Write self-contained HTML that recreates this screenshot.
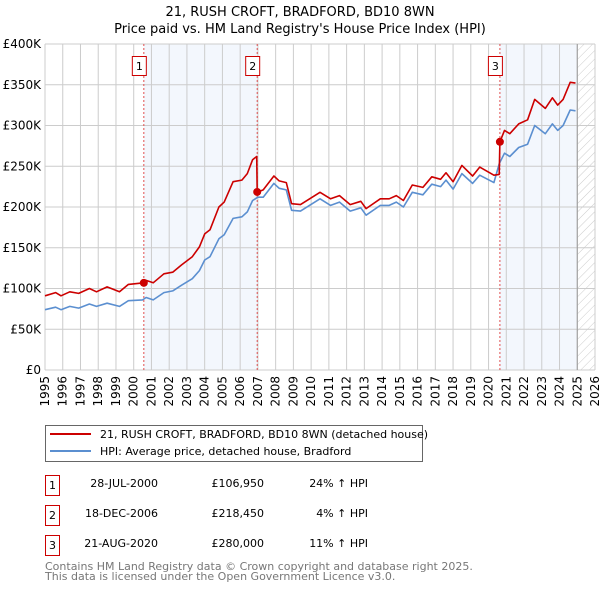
<!DOCTYPE html>
<html><head><meta charset="utf-8"><style>
body{margin:0;width:600px;height:590px;background:#fff;font-family:"Liberation Sans","DejaVu Sans",sans-serif;overflow:hidden}
svg text{font-family:"DejaVu Sans","Liberation Sans",sans-serif}
</style></head><body>
<svg id="chart" width="600" height="590" xmlns="http://www.w3.org/2000/svg">
<defs><pattern id="hatch" width="6" height="6" patternUnits="userSpaceOnUse" patternTransform="rotate(45)"><line x1="0" y1="0" x2="0" y2="6" stroke="#ccc" stroke-width="1"/></pattern></defs>
<text x="300" y="16" text-anchor="middle" font-size="13">21, RUSH CROFT, BRADFORD, BD10 8WN</text>
<text x="300" y="33" text-anchor="middle" font-size="13">Price paid vs. HM Land Registry's House Price Index (HPI)</text>
<g id="plot"></g>
<g>
<rect x="45.5" y="425.5" width="377" height="36" fill="#fff" stroke="#666"/>
<line x1="50" y1="434" x2="91" y2="434" stroke="#cc0000" stroke-width="2"/>
<text x="100" y="438" font-size="11">21, RUSH CROFT, BRADFORD, BD10 8WN (detached house)</text>
<line x1="50" y1="451" x2="91" y2="451" stroke="#5b8fd0" stroke-width="2"/>
<text x="100" y="455" font-size="11">HPI: Average price, detached house, Bradford</text>
</g>
<g font-size="11">
<rect x="45.5" y="475.5" width="14" height="20" fill="none" stroke="#cc0000"/><text x="52.5" y="489" text-anchor="middle">1</text>
<text x="158" y="487" text-anchor="end">28-JUL-2000</text><text x="264" y="487" text-anchor="end">£106,950</text><text x="368" y="487" text-anchor="end">24% ↑ HPI</text>
<rect x="45.5" y="505.5" width="14" height="20" fill="none" stroke="#cc0000"/><text x="52.5" y="519" text-anchor="middle">2</text>
<text x="158" y="517" text-anchor="end">18-DEC-2006</text><text x="264" y="517" text-anchor="end">£218,450</text><text x="368" y="517" text-anchor="end">4% ↑ HPI</text>
<rect x="45.5" y="535.5" width="14" height="20" fill="none" stroke="#cc0000"/><text x="52.5" y="549" text-anchor="middle">3</text>
<text x="158" y="547" text-anchor="end">21-AUG-2020</text><text x="264" y="547" text-anchor="end">£280,000</text><text x="368" y="547" text-anchor="end">11% ↑ HPI</text>
</g>
<text x="45" y="570" font-size="11" fill="#777">Contains HM Land Registry data © Crown copyright and database right 2025.</text>
<text x="45" y="580" font-size="11" fill="#777">This data is licensed under the Open Government Licence v3.0.</text>
</svg>
<script>
const hpiYears=[1995.0,1995.6,1995.9,1996.4,1996.9,1997.5,1997.9,1998.5,1999.2,1999.7,2000.5,2000.7,2001.1,2001.7,2002.2,2002.7,2003.3,2003.7,2004.0,2004.3,2004.8,2005.1,2005.6,2006.1,2006.4,2006.7,2007.0,2007.3,2007.9,2008.2,2008.6,2008.9,2009.4,2010.5,2011.1,2011.6,2012.2,2012.8,2013.1,2013.9,2014.4,2014.8,2015.2,2015.7,2016.3,2016.8,2017.3,2017.6,2018.0,2018.5,2019.1,2019.5,2020.3,2020.6,2020.9,2021.2,2021.7,2022.2,2022.6,2023.2,2023.6,2023.9,2024.2,2024.6,2024.9];
const hpiValues=[74,77,74,78,76,81,78,82,78,85,86,89,86,95,97,104,112,122,135,139,161,166,186,188,194,208,212,212,229,223,221,196,195,210,202,206,195,199,190,202,202,206,200,218,215,228,225,233,222,241,229,239,230,253,266,262,273,277,300,290,302,294,300,319,318];
const priceYears=[1995.0,1995.6,1995.9,1996.4,1996.9,1997.5,1997.9,1998.5,1999.2,1999.7,2000.57,2000.7,2001.1,2001.7,2002.2,2002.7,2003.3,2003.7,2004.0,2004.3,2004.8,2005.1,2005.6,2006.1,2006.4,2006.7,2006.93,2006.96,2007.3,2007.9,2008.2,2008.6,2008.9,2009.4,2010.5,2011.1,2011.6,2012.2,2012.8,2013.1,2013.9,2014.4,2014.8,2015.2,2015.7,2016.3,2016.8,2017.3,2017.6,2018.0,2018.5,2019.1,2019.5,2020.3,2020.6,2020.64,2020.9,2021.2,2021.7,2022.2,2022.6,2023.2,2023.6,2023.9,2024.2,2024.6,2024.9];
const priceValues=[91,95,91,96,94,100,96,102,96,105,107,110,107,118,120,129,139,151,167,172,200,206,231,233,241,258,262,218,221,238,232,230,204,203,218,210,214,203,207,198,210,210,214,208,227,224,237,234,242,231,251,238,249,239,240,280,294,290,302,307,332,321,334,325,332,353,352];
const saleYears=[2000.57,2006.96,2020.64];
const salePrices=[106.95,218.45,280];
const yTicks=[0,50,100,150,200,250,300,350,400];
const yTickLabels=["£0","£50K","£100K","£150K","£200K","£250K","£300K","£350K","£400K"];
const xTicks=[1995,1996,1997,1998,1999,2000,2001,2002,2003,2004,2005,2006,2007,2008,2009,2010,2011,2012,2013,2014,2015,2016,2017,2018,2019,2020,2021,2022,2023,2024,2025,2026];
const NS="http://www.w3.org/2000/svg";
const L=45,R=595,T=44,B=370;
const xs=y=>L+(y-1995)/(2026-1995)*(R-L);
const ys=v=>B-v/400*(B-T);
const g=document.getElementById('plot');
function mk(tag,at,parent){const e=document.createElementNS(NS,tag);for(const k in at)e.setAttribute(k,at[k]);(parent||g).appendChild(e);return e;}
// shading
let s1=mk('rect',{x:xs(saleYears[0]),y:T,width:xs(saleYears[1])-xs(saleYears[0]),height:B-T,fill:'#eef3fc',opacity:0.7});


let s2=mk('rect',{x:xs(saleYears[2]),y:T,width:xs(2025)-xs(saleYears[2]),height:B-T,fill:'#eef3fc',opacity:0.7});


let hz=mk('rect',{x:xs(2025),y:T,width:R-xs(2025),height:B-T,fill:'url(#hatch)'});


// grid
xTicks.forEach(t=>{const x=xs(t);
 const l=mk('line',{x1:x,y1:T,x2:x,y2:B,stroke:'#ccc','stroke-width':1});
 
 
 const tx=mk('text',{x:x+4,y:B+6,'font-size':12,'text-anchor':'end',transform:`rotate(-90 ${x+4} ${B+6})`});
 tx.textContent=t;
 
 
});
yTicks.forEach((t,i)=>{const y=ys(t);
 const l=mk('line',{x1:L,y1:y,x2:R,y2:y,stroke:'#ccc','stroke-width':1});
 
 
 const tx=mk('text',{x:L-4,y:y+4,'font-size':12,'text-anchor':'end'});
 tx.textContent=yTickLabels[i];
 
 
});
let el=mk('line',{x1:xs(2025),y1:T,x2:xs(2025),y2:B,stroke:'#999','stroke-width':1});


// sale markers vertical
saleYears.forEach((yr,i)=>{const x=xs(yr);
 const l=mk('line',{x1:x,y1:T,x2:x,y2:B,stroke:'#e05050','stroke-width':1,'stroke-dasharray':'2,2'});
 
 
 const r=mk('rect',{x:x-11.5,y:56.5,width:14,height:19,fill:'#fff',stroke:'#cc0000'});
 
 
 const tx=mk('text',{x:x-4.5,y:70,'font-size':11,'text-anchor':'middle'});
 tx.textContent=String(i+1);
 
 
});
// lines
const pts=(X,Y)=>X.map((x,i)=>xs(x).toFixed(1)+','+ys(Y[i]).toFixed(1)).join(' ');
let hl=mk('polyline',{points:pts(hpiYears,hpiValues),fill:'none',stroke:'#5b8fd0','stroke-width':1.6,'stroke-linejoin':'round'});


let pl=mk('polyline',{points:pts(priceYears,priceValues),fill:'none',stroke:'#cc0000','stroke-width':1.6,'stroke-linejoin':'round'});


saleYears.forEach((yr,i)=>{
 const c=mk('circle',{cx:xs(yr),cy:ys(salePrices[i]),r:4,fill:'#cc0000'});
 
 
});
</script>
</body></html>
